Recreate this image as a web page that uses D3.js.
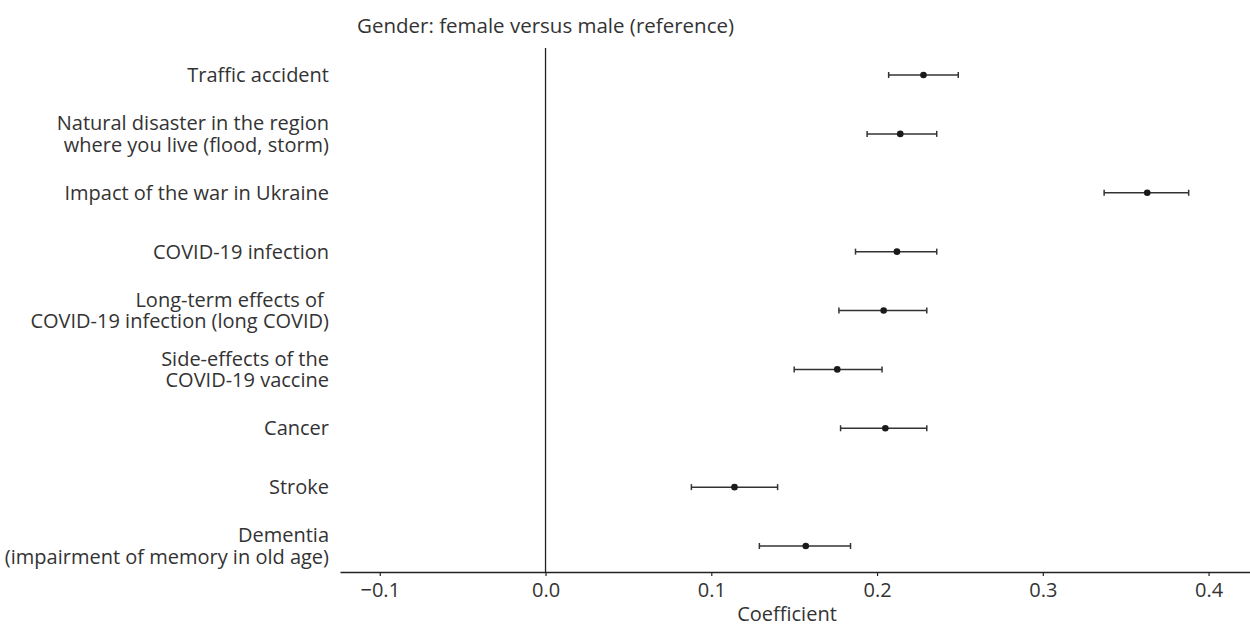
<!DOCTYPE html>
<html>
<head>
<meta charset="utf-8">
<script src="https://cdn.jsdelivr.net/npm/d3@7"></script>
<style>
  body { margin: 0; background: #fff; }
  svg text { font-family: "Open Sans", "Noto Sans", sans-serif; fill: #333; }
</style>
</head>
<body>
<div id="chart"></div>
<script>
// outcomes, top to bottom
const outcomes = [
  "Traffic accident",
  "Natural disaster in the region\nwhere you live (flood, storm)",
  "Impact of the war in Ukraine",
  "COVID-19 infection",
  "Long-term effects of \nCOVID-19 infection (long COVID)",
  "Side-effects of the\nCOVID-19 vaccine",
  "Cancer",
  "Stroke",
  "Dementia\n(impairment of memory in old age)"
];
const estimate = [0.228, 0.214, 0.363, 0.212, 0.204, 0.176, 0.205, 0.114, 0.157];
const lower    = [0.207, 0.194, 0.337, 0.187, 0.177, 0.150, 0.178, 0.088, 0.129];
const upper    = [0.249, 0.236, 0.388, 0.236, 0.230, 0.203, 0.230, 0.140, 0.184];
const xTicks = [-0.1, 0, 0.1, 0.2, 0.3, 0.4];

const title = "Gender: female versus male (reference)";

const W = 1250, H = 626;
const axisY = 572;
const fs = "20px";

const svg = d3.select("#chart").append("svg")
  .attr("width", W)
  .attr("height", H);

const x = d3.scaleLinear()
  .domain([-0.124, 0.425])
  .range([340, 1250]);

const y = d3.scalePoint()
  .domain(outcomes)
  .range([75, 546]);

const rows = outcomes.map((o, i) => ({ name: o, est: estimate[i], lo: lower[i], hi: upper[i] }));

// title
svg.append("text")
  .attr("x", 357)
  .attr("y", 33)
  .style("font-size", "20.5px")
  .text(title);

// zero line
svg.append("line")
  .attr("x1", x(0)).attr("x2", x(0))
  .attr("y1", 48).attr("y2", axisY)
  .attr("stroke", "#222")
  .attr("stroke-width", 1.3);

// x axis
const xAxis = svg.append("g")
  .attr("transform", `translate(0,${axisY})`)
  .call(d3.axisBottom(x)
    .tickValues(xTicks)
    .tickFormat(d3.format(".1f"))
    .tickSize(4)
    .tickPadding(7)
    .tickSizeOuter(0));
xAxis.select(".domain").attr("stroke", "#222").attr("stroke-width", 1.3);
xAxis.selectAll(".tick line").attr("stroke", "#222").attr("stroke-width", 1.2);
xAxis.selectAll(".tick text")
  .style("font-size", fs)
  .style("font-family", "\"Open Sans\", sans-serif")
  .attr("fill", "#333");

svg.append("text")
  .attr("x", 787)
  .attr("y", 621)
  .attr("text-anchor", "middle")
  .style("font-size", fs)
  .text("Coefficient");

// category labels
const labels = svg.append("g");
rows.forEach(d => {
  const lines = d.name.split("\n");
  const t = labels.append("text")
    .attr("text-anchor", "end")
    .style("font-size", fs)
    .style("white-space", "pre");
  lines.forEach((ln, j) => {
    t.append("tspan")
      .attr("x", 329)
      .attr("y", y(d.name) + (j - (lines.length - 1) / 2) * 21.5)
      .attr("dy", "0.35em")
      .text(ln);
  });
});

// error bars
const g = svg.append("g");
const bars = g.selectAll(".ci").data(rows).join("g").attr("class", "ci");

bars.append("line")
  .attr("x1", d => x(d.lo)).attr("x2", d => x(d.hi))
  .attr("y1", d => y(d.name)).attr("y2", d => y(d.name))
  .attr("stroke", "#333").attr("stroke-width", 1.5);

bars.append("line")
  .attr("x1", d => x(d.lo)).attr("x2", d => x(d.lo))
  .attr("y1", d => y(d.name) - 3).attr("y2", d => y(d.name) + 3)
  .attr("stroke", "#333").attr("stroke-width", 1.5);

bars.append("line")
  .attr("x1", d => x(d.hi)).attr("x2", d => x(d.hi))
  .attr("y1", d => y(d.name) - 3).attr("y2", d => y(d.name) + 3)
  .attr("stroke", "#333").attr("stroke-width", 1.5);

bars.append("circle")
  .attr("cx", d => x(d.est))
  .attr("cy", d => y(d.name))
  .attr("r", 3.3)
  .attr("fill", "#1a1a1a");
</script>
</body>
</html>
